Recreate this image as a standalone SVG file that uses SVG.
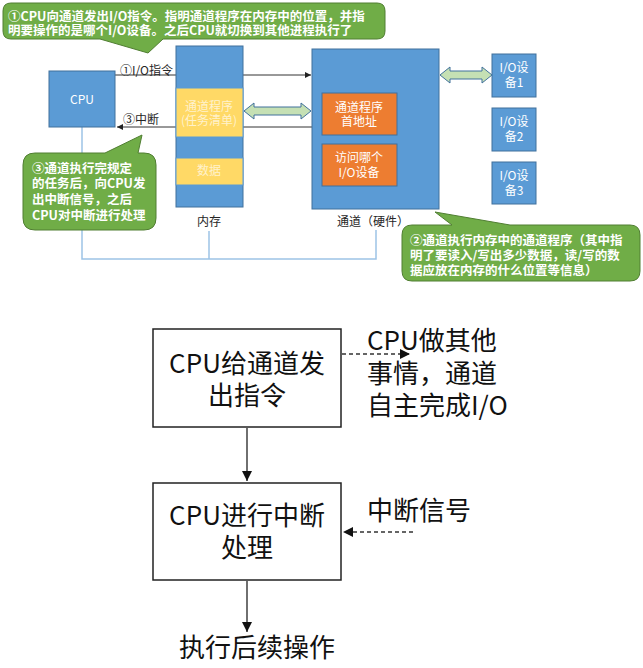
<svg xmlns="http://www.w3.org/2000/svg" width="643" height="668" viewBox="0 0 643 668">
<style>
.blk{fill:#5B9BD5;stroke:#41719C;stroke-width:1}
.yel{fill:#FFD966;stroke:#5B9BD5;stroke-width:1}
.org{fill:#ED7D31;stroke:#41719C;stroke-width:1}
.call{fill:#70AD47;stroke:#507E32;stroke-width:1}
.ct{font-family:"Noto Sans CJK SC","Microsoft YaHei",sans-serif;font-size:12.5px;font-weight:bold;fill:#FFFFFF}
.wt{font-family:"Noto Sans CJK SC",sans-serif;font-size:12px;fill:#FFFFFF;text-anchor:middle}
.lt{font-family:"Noto Sans CJK SC",sans-serif;font-size:12px;fill:#FFF2CC;text-anchor:middle}
.dk{font-family:"Noto Sans CJK SC",sans-serif;font-size:12px;fill:#262626}
.bus{fill:none;stroke:#9DC3E6;stroke-width:1.5}
.dbl{fill:#C5E0B4;stroke:#41719C;stroke-width:1}
.big{font-family:"Noto Sans CJK SC",sans-serif;font-size:26px;fill:#111111}
.box{fill:#FFFFFF;stroke:#222222;stroke-width:1.5}
.ln{stroke:#333333;stroke-width:1;fill:none}
.fl{stroke:#222222;stroke-width:1.3;fill:none}
.dash{stroke:#333333;stroke-width:1.3;fill:none;stroke-dasharray:4 3}
</style>
<defs>
<marker id="ah" markerWidth="8" markerHeight="8" refX="6" refY="3" orient="auto" markerUnits="userSpaceOnUse">
<path d="M0,0 L6,3 L0,6 Z" fill="#222222"/>
</marker>
<marker id="ahb" markerWidth="12" markerHeight="12" refX="10" refY="5" orient="auto" markerUnits="userSpaceOnUse">
<path d="M0,0 L10,5 L0,10 Z" fill="#111111"/>
</marker>
</defs>

<g id="connectors">
<path class="bus" d="M82,127 V259 H376 V230"/>
<path class="bus" d="M209,231 V259"/>
<path class="ln" d="M115,75 H311" marker-end="url(#ah)"/>
<path class="ln" d="M312,127 H117" marker-end="url(#ah)"/>
<path class="dbl" d="M244,111 L254,103 V107 H301 V103 L311,111 L301,119 V115 H254 V119 Z"/>
<path class="dbl" d="M440,75 L450,67 V71 H482 V67 L492,75 L482,83 V79 H450 V83 Z"/>
<path class="fl" d="M247,428 V481" marker-end="url(#ahb)"/>
<path class="fl" d="M247,581 V632" marker-end="url(#ahb)"/>
<path class="dash" d="M342,354 H410" marker-end="url(#ahb)"/>
<path class="dash" d="M413,532 H343" marker-end="url(#ahb)"/>
</g>

<g id="cpu">
<rect class="blk" x="49" y="71" width="66" height="56"/>
<text class="wt" x="82" y="104">CPU</text>
</g>

<g id="memory">
<rect class="blk" x="176" y="46" width="67" height="161"/>
<rect class="yel" x="176" y="88" width="67" height="49"/>
<text class="lt" x="209" y="111">通道程序</text>
<text class="lt" x="209" y="125">(任务清单)</text>
<rect class="yel" x="176" y="158" width="67" height="27"/>
<text class="lt" x="209" y="175">数据</text>
<text class="dk" x="209" y="226" text-anchor="middle">内存</text>
</g>

<g id="channel">
<rect class="blk" x="312" y="49" width="127" height="160"/>
<rect class="org" x="322" y="93" width="75" height="42"/>
<text class="wt" x="359" y="112">通道程序</text>
<text class="wt" x="359" y="126">首地址</text>
<rect class="org" x="322" y="144" width="75" height="42"/>
<text class="wt" x="359" y="162">访问哪个</text>
<text class="wt" x="359" y="177">I/O设备</text>
<text class="dk" x="373" y="226" text-anchor="middle">通道（硬件）</text>
</g>

<g id="io1">
<rect class="blk" x="492" y="54" width="44" height="43"/>
<text class="wt" x="514" y="72">I/O设</text>
<text class="wt" x="514" y="87">备1</text>
</g>
<g id="io2">
<rect class="blk" x="492" y="108" width="44" height="43"/>
<text class="wt" x="514" y="126">I/O设</text>
<text class="wt" x="514" y="141">备2</text>
</g>
<g id="io3">
<rect class="blk" x="492" y="162" width="44" height="42"/>
<text class="wt" x="514" y="180">I/O设</text>
<text class="wt" x="514" y="195">备3</text>
</g>

<g id="label-io">
<text class="dk" x="120" y="75">①I/O指令</text>
</g>
<g id="label-int">
<text class="dk" x="123" y="124">③中断</text>
</g>

<g id="callout1">
<path class="call" d="M11,3 H377 Q385,3 385,11 V31 Q385,39 377,39 H163 L148,53 L100,39 H11 Q3,39 3,31 V11 Q3,3 11,3 Z"/>
<text class="ct" x="8" y="21">①CPU向通道发出I/O指令。指明通道程序在内存中的位置，并指</text>
<text class="ct" x="8" y="35">明要操作的是哪个I/O设备。之后CPU就切换到其他进程执行了</text>
</g>

<g id="callout3">
<path class="call" d="M35,153 H105 L142,135 L138,153 H144 Q156,153 156,165 V218 Q156,230 144,230 H35 Q23,230 23,218 V165 Q23,153 35,153 Z"/>
<text class="ct" x="32" y="173">③通道执行完规定</text>
<text class="ct" x="32" y="188">的任务后，向CPU发</text>
<text class="ct" x="32" y="204">出中断信号，之后</text>
<text class="ct" x="32" y="220">CPU对中断进行处理</text>
</g>

<g id="callout2">
<path class="call" d="M412,225 H452 L435,212 L510,225 H630 Q640,225 640,235 V271 Q640,281 630,281 H412 Q402,281 402,271 V235 Q402,225 412,225 Z"/>
<text class="ct" x="410" y="245">②通道执行内存中的通道程序（其中指</text>
<text class="ct" x="410" y="260">明了要读入/写出多少数据，读/写的数</text>
<text class="ct" x="410" y="275">据应放在内存的什么位置等信息）</text>
</g>

<g id="step1">
<rect class="box" x="153" y="329" width="188" height="98"/>
<text class="big" x="247" y="373" text-anchor="middle">CPU给通道发</text>
<text class="big" x="247" y="405" text-anchor="middle">出指令</text>
</g>
<g id="note1">
<text class="big" x="367" y="350">CPU做其他</text>
<text class="big" x="367" y="383">事情，通道</text>
<text class="big" x="367" y="415">自主完成I/O</text>
</g>
<g id="step2">
<rect class="box" x="153" y="483" width="188" height="97"/>
<text class="big" x="247" y="525" text-anchor="middle">CPU进行中断</text>
<text class="big" x="247" y="557" text-anchor="middle">处理</text>
</g>
<g id="note2">
<text class="big" x="367" y="520">中断信号</text>
</g>
<g id="step3">
<text class="big" x="257" y="657" text-anchor="middle">执行后续操作</text>
</g>
</svg>
